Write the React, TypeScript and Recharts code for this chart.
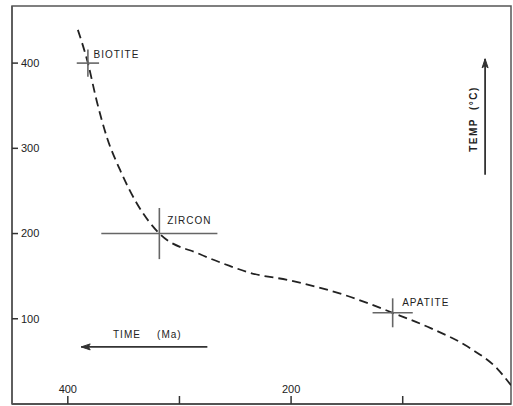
import React from 'react';
import {
  ComposedChart,
  Line,
  Scatter,
  XAxis,
  YAxis,
  ErrorBar,
  ReferenceArea,
} from 'recharts';

// Cooling curve (age in Ma, temperature in °C)
const curveAge = [391, 382, 374, 365, 353, 338, 318, 282, 255, 237, 201, 150, 109, 75, 39, 15, 3];
const curveTemp = [439, 400, 355, 313, 274, 235, 200, 176, 162, 154, 145, 127, 107, 89, 65, 41, 22];

// Mineral dates with uncertainties
const minerals = ['BIOTITE', 'ZIRCON', 'APATITE'];
const mineralAge = [382, 318, 109];
const mineralTemp = [400, 200, 107];
const mineralAgeErr = [10, 52, 18];
const mineralTempErr = [16, 30, 17];

// Label anchor positions (data coords)
const labelAge = [377, 311, 100.5];
const labelTemp = [406, 211, 115];

const xTicks = [400, 300, 200, 100];
const xLabeled = [400, 200];
const yTicks = [100, 200, 300, 400];

const curveData = curveAge.map((a, i) => ({ age: a, temp: curveTemp[i] }));
const crossData = minerals.map((m, i) => ({
  name: m,
  age: mineralAge[i],
  temp: mineralTemp[i],
  ex: mineralAgeErr[i],
  ey: mineralTempErr[i],
}));
const labelData = minerals.map((m, i) => ({ text: m, age: labelAge[i], temp: labelTemp[i] }));
const timeText = [
  { text: 'TIME', age: 359.5, temp: 77 },
  { text: '(Ma)', age: 320, temp: 77 },
];
const tempText = [
  { text: 'TEMP', age: 33.3, temp: 296 },
  { text: '(°C)', age: 33.3, temp: 345 },
];
const timeArrow = [
  { age: 275, temp: 67 },
  { age: 388, temp: 67 },
];
const tempArrow = [
  { age: 26.2, temp: 269 },
  { age: 26.2, temp: 405 },
];

const FONT = '"Liberation Sans", Arial, Helvetica, sans-serif';
const INK = '#222';

const Empty = () => <g />;

const LabelShape = (props: any) => (
  <text
    x={props.cx}
    y={props.cy}
    fill={INK}
    fontSize={10}
    fontFamily={FONT}
    letterSpacing={1}
    textAnchor="start"
  >
    {props.payload.text}
  </text>
);

const RotLabelShape = (props: any) => (
  <text
    x={props.cx}
    y={props.cy}
    fill={INK}
    fontSize={10}
    fontFamily={FONT}
    fontWeight="bold"
    letterSpacing={1.5}
    textAnchor="start"
    transform={`rotate(-90 ${props.cx} ${props.cy})`}
  >
    {props.payload.text}
  </text>
);

const leftHead = (p: any) => {
  if (p.index !== 1) return <g key={`lh${p.index}`} />;
  const { cx, cy } = p;
  return (
    <path
      key="lhead"
      d={`M${cx},${cy} L${cx + 9},${cy - 3} L${cx + 7},${cy} L${cx + 9},${cy + 3} Z`}
      fill="#333"
      stroke="#333"
      strokeWidth={1}
    />
  );
};

const upHead = (p: any) => {
  if (p.index !== 1) return <g key={`uh${p.index}`} />;
  const { cx, cy } = p;
  return (
    <path
      key="uhead"
      d={`M${cx},${cy} L${cx - 3},${cy + 9} L${cx},${cy + 7} L${cx + 3},${cy + 9} Z`}
      fill="#333"
      stroke="#333"
      strokeWidth={1}
    />
  );
};

export default function App() {
  return (
    <div style={{ position: 'absolute', left: 0, top: 0, width: 513, height: 406, background: '#fff' }}>
      <ComposedChart
        width={513}
        height={406}
        margin={{ top: 6, right: 2, bottom: 2, left: 12 }}
      >
        <XAxis
          type="number"
          dataKey="age"
          domain={[3, 450]}
          reversed
          allowDataOverflow
          ticks={xTicks}
          interval={0}
          mirror
          tickSize={8}
          tickMargin={3}
          tickFormatter={(v: number) => (xLabeled.includes(v) ? String(v) : '')}
          axisLine={{ stroke: '#444', strokeWidth: 1.5 }}
          tickLine={{ stroke: '#333', strokeWidth: 1.5 }}
          tick={{ fill: INK, fontSize: 11, fontFamily: FONT }}
        />
        <YAxis
          type="number"
          dataKey="temp"
          domain={[0, 467]}
          allowDataOverflow
          ticks={yTicks}
          interval={0}
          mirror
          tickSize={6}
          tickMargin={3}
          axisLine={{ stroke: '#555', strokeWidth: 1.5 }}
          tickLine={{ stroke: '#333', strokeWidth: 1.5 }}
          tick={{ fill: INK, fontSize: 11, fontFamily: FONT }}
        />
        <ReferenceArea
          x1={3}
          x2={450}
          y1={0}
          y2={467}
          fill="none"
          fillOpacity={0}
          stroke="#555"
          strokeWidth={1.5}
          ifOverflow="visible"
        />
        <Line
          data={curveData}
          dataKey="temp"
          type="monotone"
          stroke={INK}
          strokeWidth={1.8}
          strokeDasharray="9 5"
          dot={false}
          activeDot={false}
          isAnimationActive={false}
        />
        <Scatter data={crossData} dataKey="temp" shape={Empty} isAnimationActive={false}>
          <ErrorBar dataKey="ex" direction="x" width={0} stroke="#666" strokeWidth={1.6} />
          <ErrorBar dataKey="ey" direction="y" width={0} stroke="#666" strokeWidth={1.6} />
        </Scatter>
        <Scatter data={labelData} dataKey="temp" shape={LabelShape} isAnimationActive={false} />
        <Scatter data={timeText} dataKey="temp" shape={LabelShape} isAnimationActive={false} />
        <Scatter data={tempText} dataKey="temp" shape={RotLabelShape} isAnimationActive={false} />
        <Line
          data={timeArrow}
          dataKey="temp"
          type="linear"
          stroke="#333"
          strokeWidth={1.8}
          dot={leftHead}
          activeDot={false}
          isAnimationActive={false}
        />
        <Line
          data={tempArrow}
          dataKey="temp"
          type="linear"
          stroke="#333"
          strokeWidth={1.8}
          dot={upHead}
          activeDot={false}
          isAnimationActive={false}
        />
      </ComposedChart>
    </div>
  );
}
